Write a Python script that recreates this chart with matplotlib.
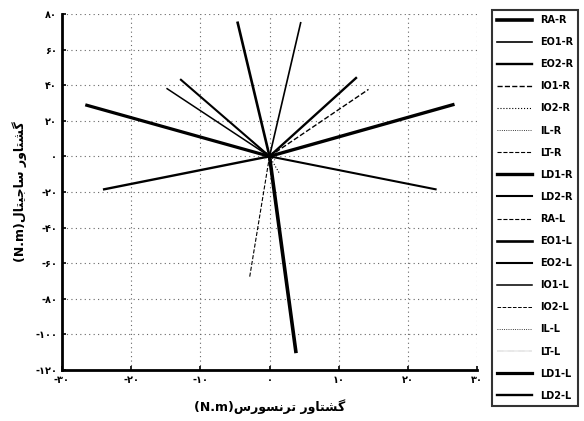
import matplotlib.pyplot as plt

plt.rcParams['font.family'] = ['DejaVu Sans']

# end points of the moment vectors (all start at the origin)
muscles = ['RA-R', 'EO1-R', 'EO2-R', 'IO1-R', 'IO2-R', 'IL-R', 'LT-R', 'LD1-R', 'LD2-R',
           'RA-L', 'EO1-L', 'EO2-L', 'IO1-L', 'IO2-L', 'IL-L', 'LT-L', 'LD1-L', 'LD2-L']
tx = [3.8, 4.5, 12.5, 14.3, 1.5, 0.6, 0.8, 26.5, 24.0,
      -2.9, -4.6, -12.8, -14.8, -2.8, -0.6, -0.8, -26.4, -23.9]
sg = [-109.5, 75.0, 44.0, 37.6, -10.0, 3.0, -2.0, 29.0, -18.5,
      -68.5, 75.0, 43.0, 38.0, 9.5, 3.0, -2.0, 28.7, -18.5]

styles = {
    'RA-R': ('-', 2.6), 'EO1-R': ('-', 1.2), 'EO2-R': ('-', 1.7), 'IO1-R': ('--', 1.0),
    'IO2-R': (':', 0.8), 'IL-R': (':', 0.6), 'LT-R': ('--', 0.8), 'LD1-R': ('-', 2.4),
    'LD2-R': ('-', 1.5), 'RA-L': ('--', 0.8), 'EO1-L': ('-', 1.9), 'EO2-L': ('-', 1.5),
    'IO1-L': ('-', 1.1), 'IO2-L': ('--', 0.7), 'IL-L': (':', 0.6), 'LT-L': (':', 0.3),
    'LD1-L': ('-', 2.3), 'LD2-L': ('-', 1.7),
}

xticks = [-30, -20, -10, 0, 10, 20, 30]
yticks = [80, 60, 40, 20, 0, -20, -40, -60, -80, -100, -120]

def fa(n):
    s = str(abs(n)).translate(str.maketrans('0123456789', '۰۱۲۳۴۵۶۷۸۹'))
    return ('-' if n < 0 else '') + s

# persian words written in shaped, visual (left to right) order
gashtavar = '\ufead\ufeed\ufe8e\ufe98\ufeb8\ufb94'
transvers = '\ufeb1\ufead\ufeee\ufeb4\ufee7\ufeae\ufe97'
sagittal = '\ufedd\ufe8e\ufe98\ufbff\ufe9f\ufe8e\ufeb3'

fig = plt.figure(figsize=(5.84, 4.21), dpi=100)
ax = fig.add_axes([0.106, 0.121, 0.711, 0.846])

for i, m in enumerate(muscles):
    ls, lw = styles[m]
    ax.plot([0, tx[i]], [0, sg[i]], color='black', linestyle=ls, linewidth=lw, label=m)

ax.set_xlim(-30, 30)
ax.set_ylim(-120, 80)
ax.set_xticks(xticks)
ax.set_xticklabels([fa(v) for v in xticks], fontsize=7, fontweight='bold')
ax.set_yticks(yticks)
ax.set_yticklabels([fa(v) for v in yticks], fontsize=7, fontweight='bold')
ax.tick_params(direction='in', length=3, width=1.2)
ax.grid(True, linestyle=(0, (1, 3)), color='#666666', linewidth=0.8)
ax.spines['left'].set_linewidth(2)
ax.spines['bottom'].set_linewidth(2)
ax.spines['top'].set_visible(False)
ax.spines['right'].set_visible(False)

ax.set_xlabel('(N.m)' + transvers + ' ' + gashtavar, fontsize=9, fontweight='bold', labelpad=10)
ax.set_ylabel('(N.m)' + sagittal + ' ' + gashtavar, fontsize=9, fontweight='bold', labelpad=6)

leg = ax.legend(loc='upper left', bbox_to_anchor=(0.842, 0.977), bbox_transform=fig.transFigure,
                fontsize=7, handlelength=3.6, labelspacing=1.245, borderpad=0.55,
                frameon=True, fancybox=False, edgecolor='black', borderaxespad=0)
leg.get_frame().set_linewidth(1.5)
for t in leg.get_texts():
    t.set_fontweight('bold')

fig.savefig('out.png', dpi=100)
